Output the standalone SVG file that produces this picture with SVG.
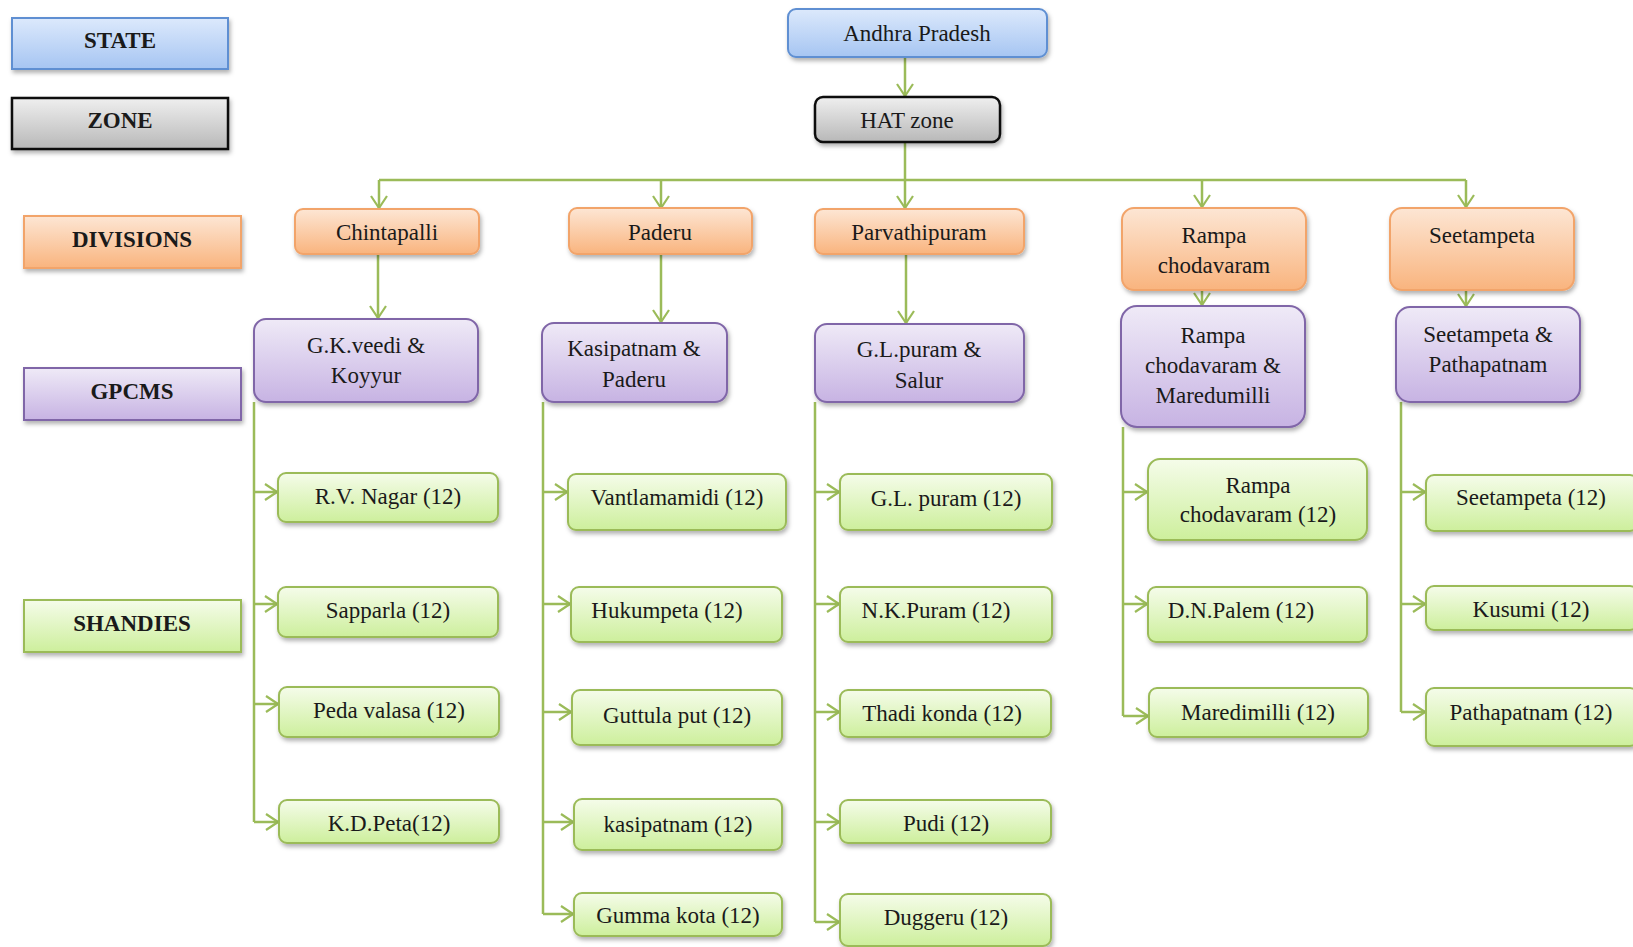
<svg xmlns="http://www.w3.org/2000/svg" width="1633" height="947" viewBox="0 0 1633 947">
<style>
text{font-family:"Liberation Serif","Times New Roman",serif;font-size:23px;fill:#1a1a1a;text-anchor:middle}
.lg{font-weight:bold}
.st{fill:url(#gB);stroke:#5f8fd2;stroke-width:2}
.zn{fill:url(#gG);stroke:#111;stroke-width:2.5}
.dv{fill:url(#gO);stroke:#f2a46a;stroke-width:2}
.gp{fill:url(#gP);stroke:#8066a8;stroke-width:2}
.sh{fill:url(#gE);stroke:#9bbb59;stroke-width:2}
.box{filter:url(#sh)}
.c{fill:none;stroke:#9bbb59;stroke-width:2.5}
.a{marker-end:url(#ar)}
</style>
<defs>
<linearGradient id="gB" x1="0" y1="0" x2="0" y2="1"><stop offset="0" stop-color="#dce9fc"/><stop offset="1" stop-color="#a6c5f2"/></linearGradient>
<linearGradient id="gG" x1="0" y1="0" x2="0" y2="1"><stop offset="0" stop-color="#efefef"/><stop offset="1" stop-color="#b8b8b8"/></linearGradient>
<linearGradient id="gO" x1="0" y1="0" x2="0" y2="1"><stop offset="0" stop-color="#fde6d4"/><stop offset="1" stop-color="#f9b47e"/></linearGradient>
<linearGradient id="gP" x1="0" y1="0" x2="0" y2="1"><stop offset="0" stop-color="#efeaf7"/><stop offset="1" stop-color="#c7b3e3"/></linearGradient>
<linearGradient id="gE" x1="0" y1="0" x2="0" y2="1"><stop offset="0" stop-color="#f5fcea"/><stop offset="1" stop-color="#cdef9c"/></linearGradient>
<filter id="sh" x="-10%" y="-20%" width="130%" height="150%"><feDropShadow dx="1.5" dy="3" stdDeviation="2" flood-color="#000" flood-opacity="0.3"/></filter>
<marker id="ar" viewBox="0 0 14 18" refX="13" refY="9" markerWidth="14" markerHeight="18" markerUnits="userSpaceOnUse" orient="auto"><path d="M1,1 L13,9 L1,17" fill="none" stroke="#9bbb59" stroke-width="2.2"/></marker>
</defs>

<g id="connectors">
<path class="c a" d="M905,57 V96"/>
<path class="c" d="M905,142 V180"/>
<path class="c" d="M379,180 H1466"/>
<path class="c a" d="M379,180 V208"/>
<path class="c a" d="M661,180 V208"/>
<path class="c a" d="M905,180 V208"/>
<path class="c a" d="M1202,180 V207"/>
<path class="c a" d="M1466,180 V207"/>
<path class="c a" d="M378,254 V318"/>
<path class="c a" d="M661,254 V322"/>
<path class="c a" d="M906,254 V323"/>
<path class="c a" d="M1202,290 V305"/>
<path class="c a" d="M1466,290 V306"/>
<path class="c" d="M254,402 V822"/>
<path class="c a" d="M254,492 H277"/>
<path class="c a" d="M254,604 H277"/>
<path class="c a" d="M254,704 H278"/>
<path class="c a" d="M254,822 H278"/>
<path class="c" d="M543,402 V914"/>
<path class="c a" d="M543,492 H567"/>
<path class="c a" d="M543,604 H570"/>
<path class="c a" d="M543,712 H571"/>
<path class="c a" d="M543,822 H573"/>
<path class="c a" d="M543,914 H573"/>
<path class="c" d="M815,402 V922"/>
<path class="c a" d="M815,492 H839"/>
<path class="c a" d="M815,604 H839"/>
<path class="c a" d="M815,712 H839"/>
<path class="c a" d="M815,822 H839"/>
<path class="c a" d="M815,922 H839"/>
<path class="c" d="M1123,427 V716"/>
<path class="c a" d="M1123,492 H1147"/>
<path class="c a" d="M1123,604 H1147"/>
<path class="c a" d="M1123,716 H1148"/>
<path class="c" d="M1401,402 V712"/>
<path class="c a" d="M1401,492 H1425"/>
<path class="c a" d="M1401,604 H1425"/>
<path class="c a" d="M1401,712 H1425"/>
</g>

<g id="legend-state"><rect class="st box" x="12" y="18" width="216" height="51"/><text class="lg" x="120" y="48">STATE</text></g>
<g id="legend-zone"><rect class="zn box" x="12" y="98" width="216" height="51"/><text class="lg" x="120" y="128">ZONE</text></g>
<g id="legend-divisions"><rect class="dv box" x="24" y="216" width="217" height="52"/><text class="lg" x="132" y="247">DIVISIONS</text></g>
<g id="legend-gpcms"><rect class="gp box" x="24" y="368" width="217" height="52"/><text class="lg" x="132" y="399">GPCMS</text></g>
<g id="legend-shandies"><rect class="sh box" x="24" y="600" width="217" height="52"/><text class="lg" x="132" y="631">SHANDIES</text></g>

<g id="andhra-pradesh"><rect class="st box" x="788" y="9" width="259" height="48" rx="8"/><text x="917" y="41">Andhra Pradesh</text></g>
<g id="hat-zone"><rect class="zn box" x="815" y="97" width="185" height="45" rx="8"/><text x="907" y="128">HAT zone</text></g>

<g id="div-chintapalli"><rect class="dv box" x="295" y="209" width="184" height="45" rx="8"/><text x="387" y="240">Chintapalli</text></g>
<g id="div-paderu"><rect class="dv box" x="569" y="208" width="183" height="46" rx="8"/><text x="660" y="240">Paderu</text></g>
<g id="div-parvathipuram"><rect class="dv box" x="815" y="209" width="209" height="45" rx="8"/><text x="919" y="240">Parvathipuram</text></g>
<g id="div-rampa"><rect class="dv box" x="1122" y="208" width="184" height="82" rx="12"/><text x="1214" y="243">Rampa</text><text x="1214" y="273">chodavaram</text></g>
<g id="div-seetampeta"><rect class="dv box" x="1390" y="208" width="184" height="82" rx="12"/><text x="1482" y="243">Seetampeta</text></g>

<g id="gp-gkveedi"><rect class="gp box" x="254" y="319" width="224" height="83" rx="12"/><text x="366" y="353">G.K.veedi &amp;</text><text x="366" y="383">Koyyur</text></g>
<g id="gp-kasipatnam"><rect class="gp box" x="542" y="323" width="185" height="79" rx="12"/><text x="634" y="356">Kasipatnam &amp;</text><text x="634" y="387">Paderu</text></g>
<g id="gp-glpuram"><rect class="gp box" x="815" y="324" width="209" height="78" rx="12"/><text x="919" y="357">G.L.puram &amp;</text><text x="919" y="388">Salur</text></g>
<g id="gp-rampa"><rect class="gp box" x="1121" y="306" width="184" height="121" rx="16"/><text x="1213" y="343">Rampa</text><text x="1213" y="373">chodavaram &amp;</text><text x="1213" y="403">Maredumilli</text></g>
<g id="gp-seetampeta"><rect class="gp box" x="1396" y="307" width="184" height="95" rx="14"/><text x="1488" y="342">Seetampeta &amp;</text><text x="1488" y="372">Pathapatnam</text></g>

<g id="sh-rvnagar"><rect class="sh box" x="278" y="473" width="220" height="49" rx="8"/><text x="388" y="504">R.V. Nagar (12)</text></g>
<g id="sh-sapparla"><rect class="sh box" x="278" y="587" width="220" height="50" rx="8"/><text x="388" y="618">Sapparla (12)</text></g>
<g id="sh-pedavalasa"><rect class="sh box" x="279" y="687" width="220" height="50" rx="8"/><text x="389" y="718">Peda valasa (12)</text></g>
<g id="sh-kdpeta"><rect class="sh box" x="279" y="800" width="220" height="43" rx="8"/><text x="389" y="831">K.D.Peta(12)</text></g>

<g id="sh-vantlamamidi"><rect class="sh box" x="568" y="474" width="218" height="56" rx="8"/><text x="677" y="505">Vantlamamidi (12)</text></g>
<g id="sh-hukumpeta"><rect class="sh box" x="571" y="587" width="211" height="55" rx="8"/><text x="667" y="618">Hukumpeta (12)</text></g>
<g id="sh-guttulaput"><rect class="sh box" x="572" y="690" width="210" height="55" rx="8"/><text x="677" y="723">Guttula put (12)</text></g>
<g id="sh-kasipatnam"><rect class="sh box" x="574" y="799" width="208" height="51" rx="8"/><text x="678" y="832">kasipatnam (12)</text></g>
<g id="sh-gummakota"><rect class="sh box" x="574" y="893" width="208" height="43" rx="8"/><text x="678" y="923">Gumma kota (12)</text></g>

<g id="sh-glpuram"><rect class="sh box" x="840" y="474" width="212" height="56" rx="8"/><text x="946" y="506">G.L. puram (12)</text></g>
<g id="sh-nkpuram"><rect class="sh box" x="840" y="587" width="212" height="55" rx="8"/><text x="936" y="618">N.K.Puram (12)</text></g>
<g id="sh-thadikonda"><rect class="sh box" x="840" y="690" width="211" height="47" rx="8"/><text x="942" y="721">Thadi konda (12)</text></g>
<g id="sh-pudi"><rect class="sh box" x="840" y="800" width="211" height="43" rx="8"/><text x="946" y="831">Pudi (12)</text></g>
<g id="sh-duggeru"><rect class="sh box" x="840" y="894" width="211" height="52" rx="8"/><text x="946" y="925">Duggeru (12)</text></g>

<g id="sh-rampa"><rect class="sh box" x="1148" y="459" width="219" height="81" rx="12"/><text x="1258" y="493">Rampa</text><text x="1258" y="522">chodavaram (12)</text></g>
<g id="sh-dnpalem"><rect class="sh box" x="1148" y="587" width="219" height="55" rx="8"/><text x="1241" y="618">D.N.Palem (12)</text></g>
<g id="sh-maredimilli"><rect class="sh box" x="1149" y="688" width="219" height="49" rx="8"/><text x="1258" y="720">Maredimilli (12)</text></g>

<g id="sh-seetampeta"><rect class="sh box" x="1426" y="475" width="212" height="56" rx="8"/><text x="1531" y="505">Seetampeta (12)</text></g>
<g id="sh-kusumi"><rect class="sh box" x="1426" y="586" width="212" height="44" rx="8"/><text x="1531" y="617">Kusumi (12)</text></g>
<g id="sh-pathapatnam"><rect class="sh box" x="1426" y="688" width="212" height="58" rx="8"/><text x="1531" y="720">Pathapatnam (12)</text></g>
</svg>
